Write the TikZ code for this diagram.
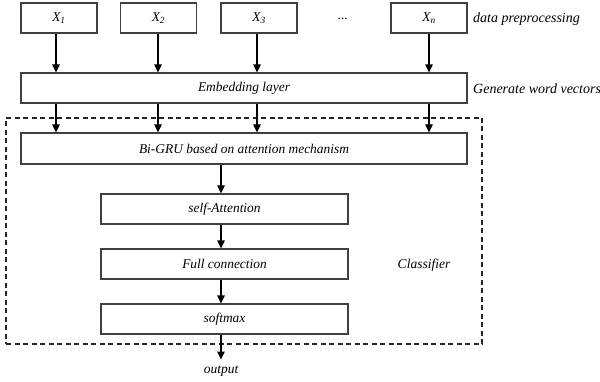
\documentclass[tikz,border=0pt]{standalone}
\usepackage{fontspec}
\setmainfont{Liberation Serif}
\usetikzlibrary{arrows.meta}
\begin{document}
\begin{tikzpicture}[x=1pt,y=-1pt,
  box/.style={draw=black!75,line width=1.2pt,minimum height=30pt,inner sep=0pt,font=\fontsize{13.4}{15}\selectfont\itshape},
  lbl/.style={font=\fontsize{13.5}{15}\selectfont\itshape,inner sep=0pt},
  side/.style={font=\fontsize{14}{16}\selectfont\itshape,inner sep=0pt,anchor=west},
  arr/.style={-{Triangle[length=8pt,width=7.5pt]},line width=1.2pt,black},
  dash box/.style={draw=black!85,line width=1.3pt,dash pattern=on 5pt off 3.5pt}]
\useasboundingbox (0,0) rectangle (600,382);
% input boxes
\node[box,minimum width=76pt] (x1) at (59,18) {X\textsubscript{1}};
\node[box,minimum width=76pt] (x2) at (158.5,18) {X\textsubscript{2}};
\node[box,minimum width=76pt] (x3) at (259,18) {X\textsubscript{3}};
\node[box,minimum width=76pt] (xn) at (429,18) {X\textsubscript{n}};
\node[lbl] (dots) at (343,19) {...};
\node[side] (dp) at (473,19) {data preprocessing};
% embedding
\node[box,minimum width=446pt] (emb) at (244,88) {Embedding layer};
\node[side] (gwv) at (473,89) {Generate word vectors};
% classifier region
\node[dash box,minimum width=476pt,minimum height=226pt,inner sep=0pt] (cls) at (244,231) {};
\node[box,minimum width=446pt,minimum height=31pt] (gru) at (244,148.5) {Bi-GRU based on attention mechanism};
\node[box,minimum width=247pt] (sa) at (224.5,209) {self-Attention};
\node[box,minimum width=247pt] (fc) at (224.5,264) {Full connection};
\node[box,minimum width=247pt] (sm) at (224.5,319) {softmax};
\node[lbl] (clsl) at (424,265) {Classifier};
\node[lbl] (out) at (221,371) {output};
% x positions of the arrows
\coordinate (a1) at (56,0);
\coordinate (a2) at (158,0);
\coordinate (a3) at (257,0);
\coordinate (an) at (429,0);
\coordinate (ac) at (221,0);
\draw[arr] (x1.south -| a1) -- (emb.north -| a1);
\draw[arr] (x2.south -| a2) -- (emb.north -| a2);
\draw[arr] (x3.south -| a3) -- (emb.north -| a3);
\draw[arr] (xn.south -| an) -- (emb.north -| an);
\draw[arr] (emb.south -| a1) -- (gru.north -| a1);
\draw[arr] (emb.south -| a2) -- (gru.north -| a2);
\draw[arr] (emb.south -| a3) -- (gru.north -| a3);
\draw[arr] (emb.south -| an) -- (gru.north -| an);
\draw[arr] (gru.south -| ac) -- (sa.north -| ac);
\draw[arr] (sa.south -| ac) -- (fc.north -| ac);
\draw[arr] (fc.south -| ac) -- (sm.north -| ac);
\draw[arr] (sm.south -| ac) -- ([yshift=6pt]out.north);
\end{tikzpicture}
\end{document}
